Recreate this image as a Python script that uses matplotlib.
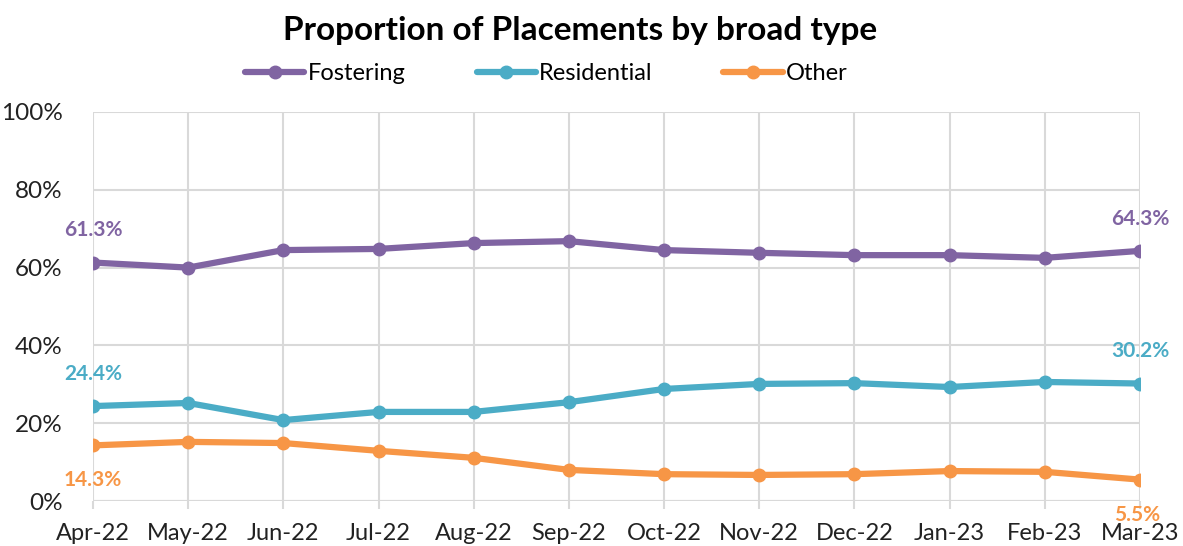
import matplotlib
matplotlib.use("Agg")
import matplotlib.pyplot as plt
from matplotlib.ticker import FuncFormatter

plt.rcParams['font.family'] = ['Lato', 'DejaVu Sans']

months = ["Apr-22", "May-22", "Jun-22", "Jul-22", "Aug-22", "Sep-22",
          "Oct-22", "Nov-22", "Dec-22", "Jan-23", "Feb-23", "Mar-23"]
fostering = [61.3, 60.0, 64.5, 64.8, 66.3, 66.8, 64.5, 63.8, 63.2, 63.2, 62.5, 64.3]
residential = [24.4, 25.2, 20.8, 22.9, 22.9, 25.4, 28.8, 30.1, 30.3, 29.3, 30.6, 30.2]
other = [14.3, 15.2, 14.9, 12.9, 11.1, 8.0, 6.9, 6.7, 6.9, 7.7, 7.5, 5.5]

c_fos = "#8064A2"
c_res = "#4BACC6"
c_oth = "#F79646"

fig = plt.figure(figsize=(11.83, 5.46), dpi=100)
ax = fig.add_axes([0.0786, 0.0824, 0.885, 0.7125])

x = list(range(len(months)))
ax.plot(x, fostering, color=c_fos, lw=4.5, marker='o', ms=9, label="Fostering", solid_capstyle='round')
ax.plot(x, residential, color=c_res, lw=4.5, marker='o', ms=9, label="Residential", solid_capstyle='round')
ax.plot(x, other, color=c_oth, lw=4.5, marker='o', ms=9, label="Other", solid_capstyle='round')

ax.set_xlim(0, len(months) - 1)
ax.set_ylim(0, 100)
ax.set_yticks([0, 20, 40, 60, 80, 100])
ax.yaxis.set_major_formatter(FuncFormatter(lambda v, p: f"{v:.0f}%"))
ax.set_xticks(x)
ax.set_xticklabels(months)
ax.grid(True, color="#D9D9D9", lw=1.5)
ax.set_axisbelow(True)
for s in ax.spines.values():
    s.set_visible(False)
ax.tick_params(axis='y', length=0, labelsize=17.5, colors="#222222", pad=22)
ax.tick_params(axis='x', length=6, width=1.5, color="#D9D9D9", labelsize=17, labelcolor="#222222", pad=10)
ax.axhline(0, color="#D9D9D9", lw=1.5, zorder=0)

lab_kw = dict(fontsize=15, fontweight='bold', ha='center', va='center')
ax.text(0, fostering[0] + 8.3, f"{fostering[0]:.1f}%", color=c_fos, **lab_kw)
ax.text(0, residential[0] + 8.3, f"{residential[0]:.1f}%", color=c_res, **lab_kw)
ax.text(0, other[0] - 8.8, f"{other[0]:.1f}%", color=c_oth, **lab_kw)
ax.text(11, fostering[-1] + 8.3, f"{fostering[-1]:.1f}%", color=c_fos, **lab_kw)
ax.text(11, residential[-1] + 8.3, f"{residential[-1]:.1f}%", color=c_res, **lab_kw)
ax.text(10.97, other[-1] - 9.0, f"{other[-1]:.1f}%", color=c_oth, **lab_kw)

fig.text(0.49, 0.945, "Proportion of Placements by broad type", ha='center', va='center',
         fontsize=24, fontweight='bold', color="#000000")
leg = fig.legend(loc='center', bbox_to_anchor=(0.462, 0.865), ncol=3, frameon=False,
                 fontsize=17, handlelength=2.5, columnspacing=3.0, handletextpad=0.15)

fig.savefig("out.png", dpi=100)
